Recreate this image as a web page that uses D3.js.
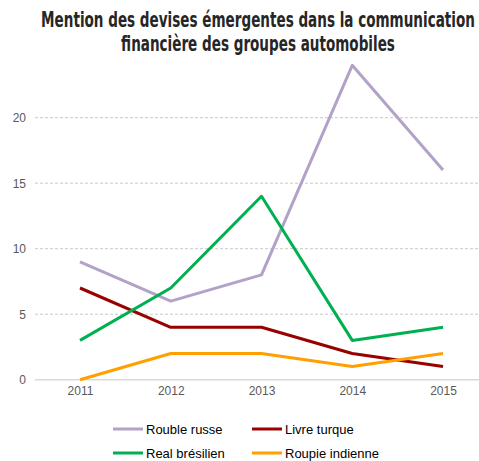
<!DOCTYPE html>
<html>
<head>
<meta charset="utf-8">
<script src="https://cdn.jsdelivr.net/npm/d3@7"></script>
<style>
  body { margin: 0; background: #fff; }
  text { font-family: "Liberation Sans", Arial, sans-serif; }
  .title { font-family: "DejaVu Sans", sans-serif; font-stretch: condensed; font-weight: bold; font-size: 22px; fill: #262626; }
  .tick text { fill: #595959; font-size: 12px; font-family: "Liberation Sans", Arial, sans-serif; }
  .legend text { fill: #000; font-size: 13px; }
</style>
</head>
<body>
<script>
// years on the x axis
var years = ["2011", "2012", "2013", "2014", "2015"];
// number of mentions for each currency
var rouble = [9, 6, 8, 24, 16];
var livre = [7, 4, 4, 2, 1];
var real = [3, 7, 14, 3, 4];
var roupie = [0, 2, 2, 1, 2];
var yTicks = [0, 5, 10, 15, 20];
var titleLines = ["Mention des devises émergentes dans la communication", "financière des groupes automobiles"];

var series = [
  {name: "Rouble russe", values: rouble, color: "#b3a2c7"},
  {name: "Livre turque", values: livre, color: "#990000"},
  {name: "Real brésilien", values: real, color: "#00b050"},
  {name: "Roupie indienne", values: roupie, color: "#ffa000"}
];

var w = 479, h = 461;
var svg = d3.select("body").append("svg")
    .attr("width", w)
    .attr("height", h);

// title on two lines, narrowed with a horizontal scale to look like the condensed face
var cx = 258;
var titles = svg.append("g").selectAll("text")
    .data(titleLines)
    .enter()
    .append("text")
      .attr("class", "title")
      .attr("text-anchor", "middle")
      .text(function(d){ return d; });
// first line should be 434px wide, same squeeze for both lines
var k = 434 / titles.node().getComputedTextLength();
titles.attr("transform", function(d, i){
  return "translate(" + cx + "," + (27 + i * 24) + ") scale(" + k + ",1)";
});

var x = d3.scalePoint()
    .domain(years)
    .range([80, 443]);

var y = d3.scaleLinear()
    .domain([0, 25])
    .range([379.7, 52.2]);

// horizontal grid lines, the zero line is solid
svg.append("g").selectAll("line")
    .data(yTicks)
    .enter()
    .append("line")
      .attr("x1", 35)
      .attr("x2", w)
      .attr("y1", function(d){ return y(d); })
      .attr("y2", function(d){ return y(d); })
      .style("stroke", function(d){ return d === 0 ? "#d9d9d9" : "#c8c8c8"; })
      .style("stroke-width", function(d){ return d === 0 ? 1.5 : 1; })
      .style("stroke-dasharray", function(d){ return d === 0 ? null : "3,2"; });

// y axis labels only
var yAxis = svg.append("g")
    .attr("transform", "translate(26,0)")
    .call(d3.axisLeft(y).tickValues(yTicks).tickSize(0).tickPadding(0));
yAxis.select(".domain").remove();
yAxis.selectAll("text").attr("dy", "0.35em");

// x axis labels only
var xAxis = svg.append("g")
    .attr("transform", "translate(0,386)")
    .call(d3.axisBottom(x).tickSize(0).tickPadding(0));
xAxis.select(".domain").remove();

var line = d3.line()
    .x(function(d, i){ return x(years[i]); })
    .y(function(d){ return y(d); });

svg.append("g").selectAll("path")
    .data(series)
    .enter()
    .append("path")
      .attr("d", function(d){ return line(d.values); })
      .style("fill", "none")
      .style("stroke", function(d){ return d.color; })
      .style("stroke-width", 3)
      .style("stroke-linejoin", "round");

// legend in two columns
var legend = svg.append("g").attr("class", "legend")
    .selectAll("g")
    .data(series)
    .enter()
    .append("g")
      .attr("transform", function(d, i){
        return "translate(" + (i % 2 === 0 ? 113 : 252) + "," + (i < 2 ? 429 : 453) + ")";
      });
legend.append("line")
    .attr("x1", 0).attr("x2", 30)
    .style("stroke", function(d){ return d.color; })
    .style("stroke-width", 3);
legend.append("text")
    .attr("x", 33)
    .attr("dy", "0.35em")
    .text(function(d){ return d.name; });
</script>
</body>
</html>
